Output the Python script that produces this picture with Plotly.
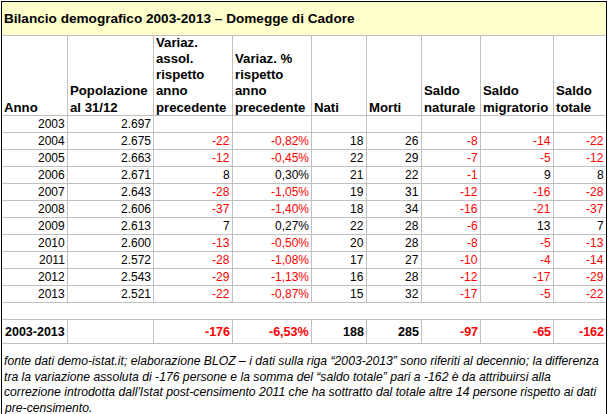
import plotly.graph_objects as go

# dati
anni = [2003, 2004, 2005, 2006, 2007, 2008, 2009, 2010, 2011, 2012, 2013]
popolazione = [2697, 2675, 2663, 2671, 2643, 2606, 2613, 2600, 2572, 2543, 2521]
var_assol = [None, -22, -12, 8, -28, -37, 7, -13, -28, -29, -22]
var_perc = [None, -0.82, -0.45, 0.30, -1.05, -1.40, 0.27, -0.50, -1.08, -1.13, -0.87]
nati = [None, 18, 22, 21, 19, 18, 22, 20, 17, 16, 15]
morti = [None, 26, 29, 22, 31, 34, 28, 28, 27, 28, 32]
saldo_naturale = [None, -8, -7, -1, -12, -16, -6, -8, -10, -12, -17]
saldo_migratorio = [None, -14, -5, 9, -16, -21, 13, -5, -4, -17, -5]
saldo_totale = [None, -22, -12, 8, -28, -37, 7, -13, -14, -29, -22]

periodo = "2003-2013"
tot_var_assol = -176
tot_var_perc = -6.53
tot_nati = 188
tot_morti = 285
tot_saldo_naturale = -97
tot_saldo_migratorio = -65
tot_saldo_totale = -162

titolo = "Bilancio demografico 2003-2013 – Domegge di Cadore"
intestazioni = [["Anno"], ["Popolazione", "al 31/12"],
                ["Variaz.", "assol.", "rispetto", "anno", "precedente"],
                ["Variaz. %", "rispetto", "anno", "precedente"], ["Nati"], ["Morti"],
                ["Saldo", "naturale"], ["Saldo", "migratorio"], ["Saldo", "totale"]]
nota = ["fonte dati demo-istat.it; elaborazione BLOZ – i dati sulla riga “2003-2013” sono riferiti al decennio; la differenza",
        "tra la variazione assoluta di -176 persone e la somma del “saldo totale” pari a -162 è da attribuirsi alla",
        "correzione introdotta dall'Istat post-censimento 2011 che ha sottratto dal totale altre 14 persone rispetto ai dati",
        "pre-censimento."]

# griglia (pixel)
W, H = 608, 414
col_px = [1, 67, 153, 232, 311, 366, 421, 480, 553, 606]
riga_px = [115 + 17 * k for k in range(len(anni) + 1)]
FONT = "Arial, Liberation Sans, sans-serif"
ROSSO = "#FF0000"
GRIGIO = "#C0C0C0"


def fmt_int(v):
    return f"{v:,}".replace(",", ".")


def fmt_perc(v):
    return f"{v:.2f}".replace(".", ",") + "%"


def colore(v):
    return ROSSO if v < 0 else "black"


fig = go.Figure()
fig.add_trace(go.Scatter(x=[0, W], y=[0, H], mode="markers", marker=dict(opacity=0), hoverinfo="skip"))

shapes = []
# titolo giallo
shapes.append(dict(type="rect", x0=1.5, x1=606.5, y0=1.5, y1=35.5, fillcolor="#FFFFCC", line=dict(width=0), layer="below"))
# linee orizzontali grigie
for y in [35] + riga_px + [319, 343]:
    shapes.append(dict(type="line", x0=1.5, x1=606.5, y0=y + 0.5, y1=y + 0.5, line=dict(color=GRIGIO, width=1)))
# linee verticali grigie
for x in col_px[1:-1]:
    shapes.append(dict(type="line", x0=x + 0.5, x1=x + 0.5, y0=35.5, y1=302.5, line=dict(color=GRIGIO, width=1)))
    shapes.append(dict(type="line", x0=x + 0.5, x1=x + 0.5, y0=319.5, y1=343.5, line=dict(color=GRIGIO, width=1)))
# bordi neri
shapes.append(dict(type="line", x0=1, x1=607, y0=1.5, y1=1.5, line=dict(color="black", width=1)))
shapes.append(dict(type="line", x0=1.5, x1=1.5, y0=1, y1=H, line=dict(color="black", width=1)))
shapes.append(dict(type="line", x0=606.5, x1=606.5, y0=1, y1=H, line=dict(color="black", width=1)))

ann = []


def testo(x, y, t, xanchor="right", colore_t="black", bold=False, italic=False, size=12):
    if bold:
        t = "<b>" + t + "</b>"
    if italic:
        t = "<i>" + t + "</i>"
    ann.append(dict(x=x, y=y, text=t, xanchor=xanchor, yanchor="middle", showarrow=False, align="left",
                    font=dict(family=FONT, size=size, color=colore_t), borderpad=0))


testo(3, 18, titolo, xanchor="left", bold=True, size=13.6)

# intestazioni allineate in basso, interlinea 16 px
for i, righe in enumerate(intestazioni):
    n = len(righe)
    for r, t in enumerate(righe):
        testo(col_px[i] + 2, 107 - 16.2 * (n - 1 - r), t, xanchor="left", bold=True, size=13.2)

colonne = [var_assol, var_perc, nati, morti, saldo_naturale, saldo_migratorio, saldo_totale]
for k, anno in enumerate(anni):
    yc = riga_px[k] + 9
    testo(col_px[1] - 1, yc, str(anno))
    testo(col_px[2] - 1, yc, fmt_int(popolazione[k]))
    for j, serie in enumerate(colonne):
        v = serie[k]
        if v is None:
            continue
        s = fmt_perc(v) if serie is var_perc else str(v)
        testo(col_px[j + 3] - 1, yc, s, colore_t=colore(v))

# riga totale
yt = 332
testo(col_px[0] + 3, yt, periodo, xanchor="left", bold=True, size=12.5)
totali = [tot_var_assol, tot_var_perc, tot_nati, tot_morti, tot_saldo_naturale, tot_saldo_migratorio, tot_saldo_totale]
for j, v in enumerate(totali):
    s = fmt_perc(v) if j == 1 else str(v)
    testo(col_px[j + 3] - 1, yt, s, colore_t=colore(v), bold=True, size=12.5)

# nota
for n, riga in enumerate(nota):
    testo(3, 361 + 15.5 * n, riga, xanchor="left", italic=True, size=12.2)

fig.update_layout(
    width=W, height=H, margin=dict(l=0, r=0, t=0, b=0),
    paper_bgcolor="white", plot_bgcolor="white",
    xaxis=dict(range=[0, W], visible=False, fixedrange=True),
    yaxis=dict(range=[H, 0], visible=False, fixedrange=True),
    shapes=shapes, annotations=ann, showlegend=False,
)

fig.write_html("out.html", config={"displayModeBar": False, "staticPlot": True},
               post_script="document.body.style.margin='0px';")
